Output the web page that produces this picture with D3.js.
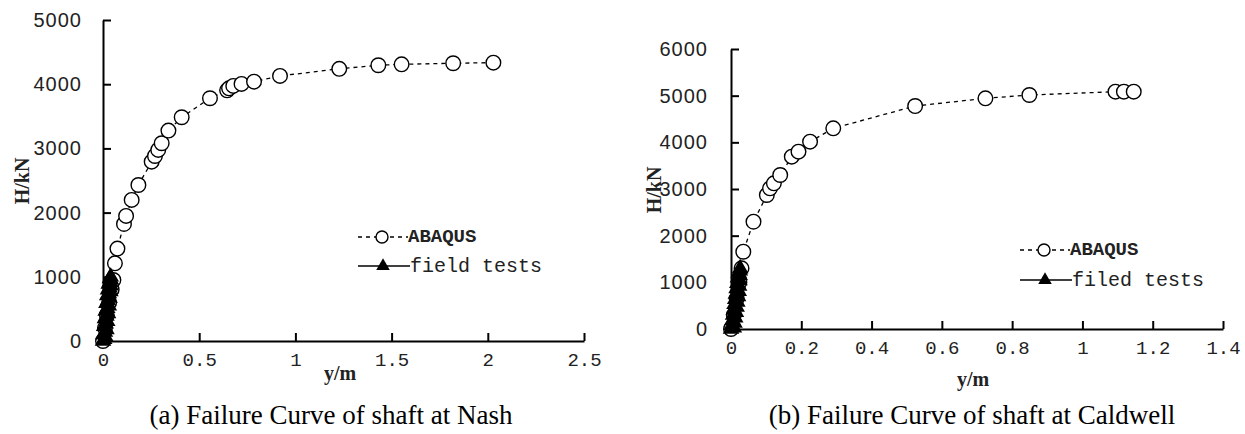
<!DOCTYPE html>
<html><head><meta charset="utf-8">
<script src="https://cdn.jsdelivr.net/npm/d3@7"></script>
<style>
html,body{margin:0;padding:0;background:#fff;}
svg{display:block;}
</style></head>
<body>
<svg id="chart" width="1245" height="434"></svg>
<script>
// ---- data ----
const nashAbaqusX = [0.000,0.010,0.020,0.032,0.045,0.054,0.062,0.075,0.109,0.120,0.149,0.184,0.253,0.270,0.287,0.305,0.340,0.409,0.556,0.645,0.655,0.677,0.720,0.785,0.920,1.228,1.431,1.552,1.820,2.029];
const nashAbaqusY = [0,200,400,600,800,950,1210,1440,1823,1948,2197,2430,2793,2882,2976,3080,3277,3485,3781,3905,3935,3973,4004,4040,4129,4240,4295,4310,4326,4336];
const nashFieldX = [0.000,0.006,0.014,0.002,0.010,0.018,0.006,0.014,0.022,0.010,0.018,0.026,0.014,0.022,0.030,0.018,0.026,0.034,0.022,0.030,0.038,0.026,0.034,0.040,0.030,0.036,0.042,0.036,0.040];
const nashFieldY = [0,30,60,100,140,180,230,270,310,350,390,430,470,510,550,590,630,670,710,740,770,800,830,860,890,920,950,975,1000];

const caldAbaqusX = [0.000,0.008,0.016,0.024,0.030,0.035,0.064,0.102,0.111,0.122,0.140,0.173,0.192,0.225,0.291,0.524,0.724,0.849,1.094,1.118,1.146];
const caldAbaqusY = [0,300,650,1000,1300,1656,2299,2871,3015,3122,3300,3692,3800,4014,4300,4778,4943,5014,5085,5085,5085];
const caldFieldX = [0.000,0.008,0.002,0.010,0.004,0.012,0.006,0.014,0.008,0.016,0.010,0.018,0.012,0.020,0.014,0.022,0.016,0.023,0.018,0.024,0.020,0.025,0.022,0.025,0.026];
const caldFieldY = [0,30,80,130,190,240,300,360,410,470,530,580,640,700,750,810,870,920,980,1040,1100,1150,1200,1250,1300];

const nashXTicks = [0,0.5,1,1.5,2,2.5];
const nashYTicks = [0,1000,2000,3000,4000,5000];
const caldXTicks = [0,0.2,0.4,0.6,0.8,1,1.2,1.4];
const caldYTicks = [0,1000,2000,3000,4000,5000,6000];

const seriesNames = ["ABAQUS"];
const fieldNames = ["field tests","filed tests"];
const captions = ["(a) Failure Curve of shaft at Nash","(b) Failure Curve of shaft at Caldwell"];
const xTitle = "y/m", yTitle = "H/kN";

// ---- drawing ----
const svg = d3.select("#chart");
svg.append("rect").attr("width",1245).attr("height",434).attr("fill","#fff");

function zip(xs, ys){ return xs.map((x,i)=>({x:x,y:ys[i]})); }

function panel(cfg){
  const g = svg.append("g");
  const x = d3.scaleLinear().domain(cfg.xDom).range(cfg.xRange);
  const y = d3.scaleLinear().domain(cfg.yDom).range(cfg.yRange);

  const xAxis = d3.axisBottom(x).tickValues(cfg.xTicks).tickSizeInner(-8).tickSizeOuter(0)
      .tickPadding(cfg.xPad).tickFormat(d3.format("~g"));
  const yAxis = d3.axisLeft(y).tickValues(cfg.yTicks).tickSizeInner(-8).tickSizeOuter(0)
      .tickPadding(cfg.yPad).tickFormat(d3.format("d"));

  const gx = g.append("g").attr("transform",`translate(0,${cfg.yRange[0]})`).call(xAxis);
  const gy = g.append("g").attr("transform",`translate(${cfg.xRange[0]},0)`).call(yAxis);
  [gx,gy].forEach(a=>{
    a.select(".domain").attr("stroke","#000").attr("stroke-width",2);
    a.selectAll(".tick line").attr("stroke","#000").attr("stroke-width",2);
  });
  gx.selectAll(".tick text").attr("font-family","'Liberation Mono', monospace")
    .attr("font-size",19).attr("fill","#222");
  gy.selectAll(".tick text").attr("font-family","'Liberation Sans', Arial, sans-serif")
    .attr("font-size",20).attr("letter-spacing","1px").attr("fill","#222");
  gy.selectAll(".tick").filter(d=>d===0).select("line").remove();
  gx.selectAll(".tick").filter(d=>d===0).select("line").remove();

  const line = d3.line().x(d=>x(d.x)).y(d=>y(d.y));
  const ab = zip(cfg.abX, cfg.abY);
  const fd = zip(cfg.fdX, cfg.fdY);

  g.append("path").datum(ab).attr("d",line).attr("fill","none")
    .attr("stroke","#000").attr("stroke-width",1.3).attr("stroke-dasharray","4,4");
  g.selectAll(".ab").data(ab).enter().append("circle")
    .attr("cx",d=>x(d.x)).attr("cy",d=>y(d.y)).attr("r",7.3)
    .attr("fill","#fff").attr("stroke","#000").attr("stroke-width",1.4);

  g.append("path").datum(fd).attr("d",line).attr("fill","none")
    .attr("stroke","#000").attr("stroke-width",1.5);
  const tri = d3.symbol().type(d3.symbolTriangle).size(120);
  g.selectAll(".fd").data(fd).enter().append("path")
    .attr("d",tri).attr("transform",d=>`translate(${x(d.x)},${y(d.y)})`)
    .attr("fill","#000");

  // axis titles
  g.append("text").attr("x",cfg.xt[0]).attr("y",cfg.xt[1]).attr("text-anchor","middle")
    .attr("font-family","'Liberation Serif', serif").attr("font-weight","bold")
    .attr("font-size",20).attr("fill","#222").text(xTitle);
  g.append("text").attr("transform",`translate(${cfg.yt[0]},${cfg.yt[1]}) rotate(-90)`)
    .attr("text-anchor","middle").attr("dominant-baseline","central")
    .attr("font-family","'Liberation Serif', serif").attr("font-weight","bold")
    .attr("font-size",20).attr("fill","#222").text(yTitle);

  // legend
  const legTri = d3.symbol().type(d3.symbolTriangle).size(80);
  const lg = g.append("g").attr("transform",`translate(${cfg.leg[0]},${cfg.leg[1]})`);
  lg.append("line").attr("x1",0).attr("x2",50).attr("y1",0).attr("y2",0)
    .attr("stroke","#000").attr("stroke-width",1.3).attr("stroke-dasharray","4,4");
  lg.append("circle").attr("cx",24).attr("cy",0).attr("r",6)
    .attr("fill","#fff").attr("stroke","#000").attr("stroke-width",1.4);
  lg.append("text").attr("x",50).attr("y",0).attr("dominant-baseline","central")
    .attr("font-family","'Liberation Mono', monospace").attr("font-weight","bold")
    .attr("font-size",19).attr("fill","#222").text(seriesNames[0]);
  lg.append("line").attr("x1",0).attr("x2",52).attr("y1",cfg.legGap).attr("y2",cfg.legGap)
    .attr("stroke","#000").attr("stroke-width",1.5);
  lg.append("path").attr("d",legTri).attr("transform",`translate(25,${cfg.legGap})`).attr("fill","#000");
  lg.append("text").attr("x",52).attr("y",cfg.legGap).attr("dominant-baseline","central")
    .attr("font-family","'Liberation Mono', monospace")
    .attr("font-size",20).attr("fill","#222").text(cfg.fieldName);

  // caption
  g.append("text").attr("x",cfg.cap[0]).attr("y",cfg.cap[1]).attr("text-anchor","middle")
    .attr("font-family","'Liberation Serif', 'Times New Roman', serif")
    .attr("font-size",27).attr("fill","#000").text(cfg.caption);
}

panel({
  xDom:[0,2.5], xRange:[103,584], yDom:[0,5000], yRange:[341,20],
  xTicks:nashXTicks, yTicks:nashYTicks, xPad:12, yPad:21,
  abX:nashAbaqusX, abY:nashAbaqusY, fdX:nashFieldX, fdY:nashFieldY,
  xt:[340,380], yt:[22,181], leg:[358,237], legGap:29, fieldName:fieldNames[0],
  cap:[331,424], caption:captions[0]
});
panel({
  xDom:[0,1.4], xRange:[731,1223], yDom:[0,6000], yRange:[329,49],
  xTicks:caldXTicks, yTicks:caldYTicks, xPad:12, yPad:23,
  abX:caldAbaqusX, abY:caldAbaqusY, fdX:caldFieldX, fdY:caldFieldY,
  xt:[973,386], yt:[654,190], leg:[1020,250], legGap:30, fieldName:fieldNames[1],
  cap:[972,424], caption:captions[1]
});
</script>
</body></html>
